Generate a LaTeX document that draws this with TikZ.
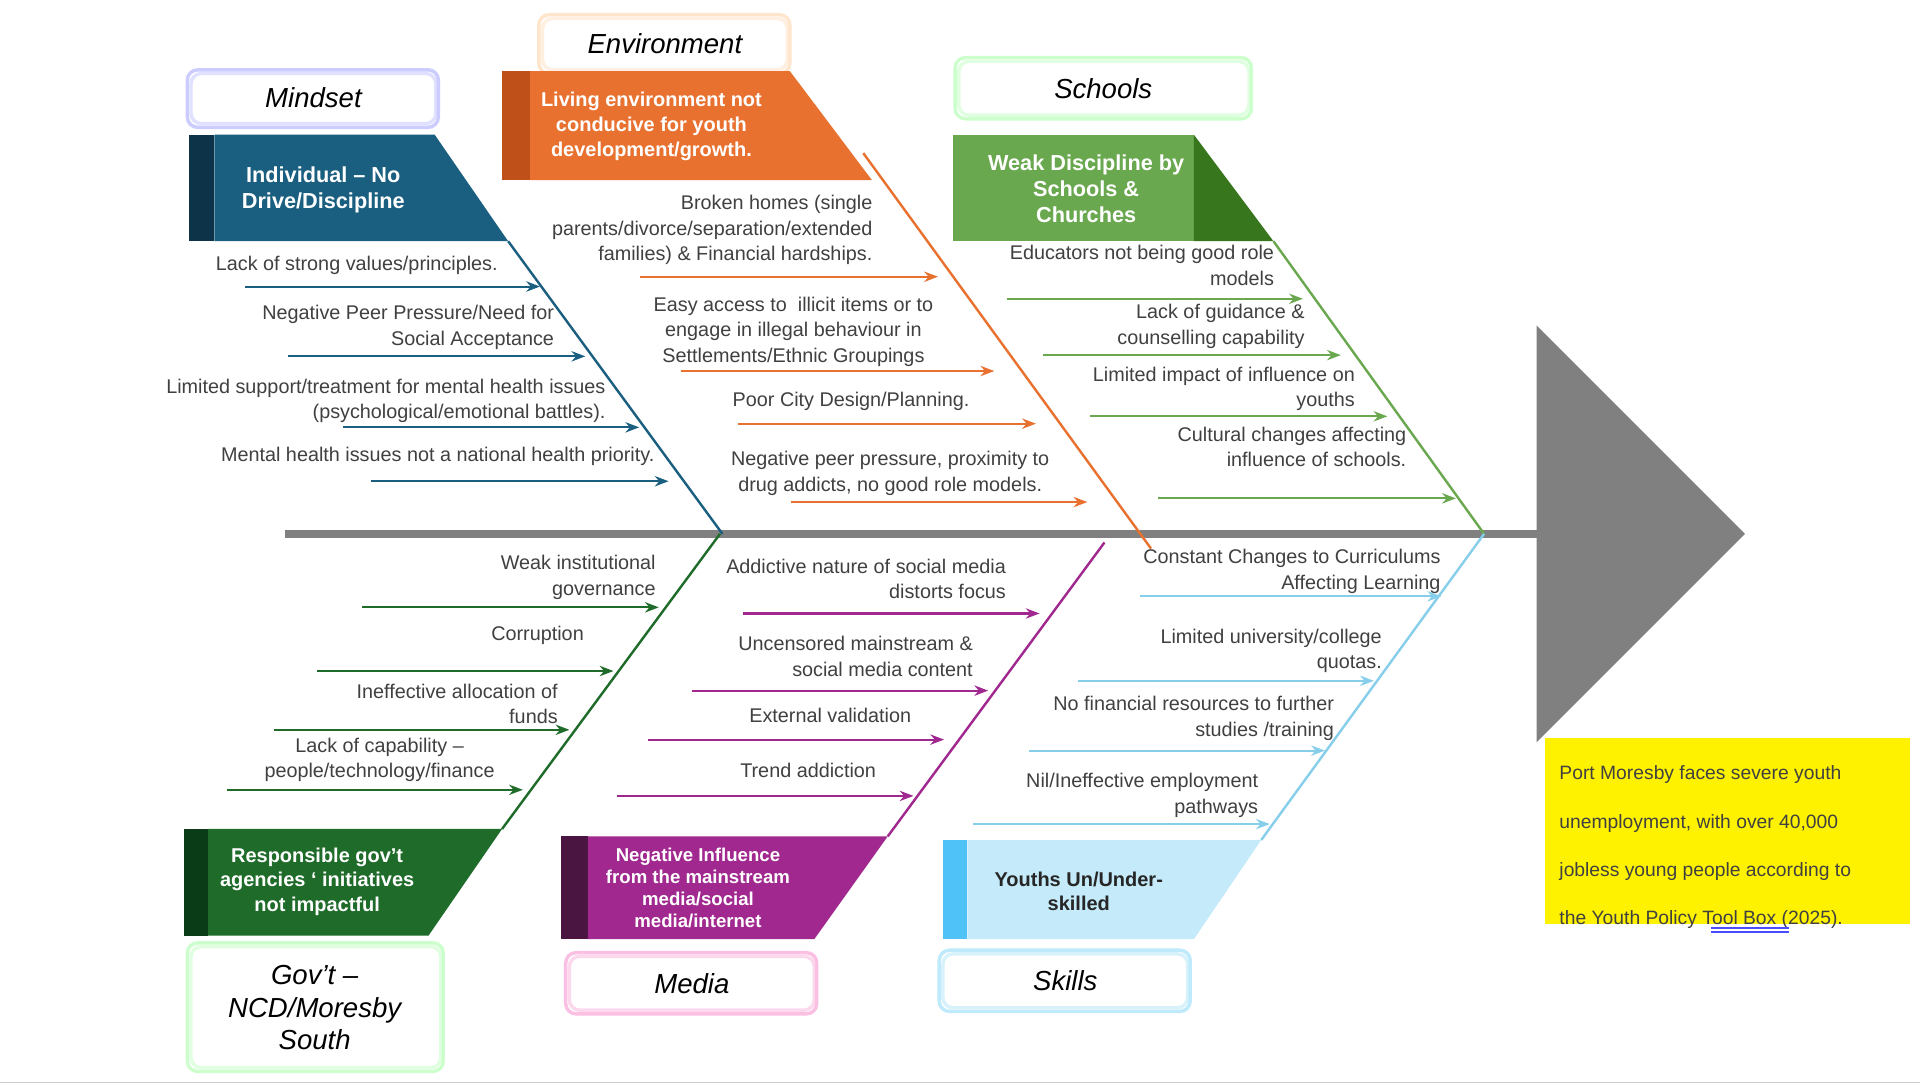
\documentclass[tikz,border=0pt]{standalone}
\usepackage{fontspec}
\setmainfont{Liberation Sans}
\usetikzlibrary{arrows.meta}
\definecolor{txt}{HTML}{404040}
\definecolor{mb}{HTML}{1A5F80}\definecolor{mbd}{HTML}{0D3349}
\definecolor{eo}{HTML}{E8712F}\definecolor{eod}{HTML}{C0501A}
\definecolor{sg}{HTML}{6AA84F}\definecolor{sgd}{HTML}{38761D}
\definecolor{gg}{HTML}{1E6B2A}\definecolor{ggd}{HTML}{0A3D17}
\definecolor{mp}{HTML}{A0288F}\definecolor{mpd}{HTML}{4A1540}
\definecolor{kb}{HTML}{C5EBFA}\definecolor{kbd}{HTML}{4FC3F7}\definecolor{kl}{HTML}{87CEEB}
\begin{document}
\begin{tikzpicture}[x=0.0125cm,y=-0.0125cm,
 t/.style={font=\fontsize{5.75}{7.4}\selectfont, text=txt, inner sep=0pt},
 r/.style={t,align=right,anchor=north east},
 c/.style={t,align=center,anchor=north},
 h/.style={font=\fontsize{5.8}{7.2}\selectfont\bfseries, text=white, align=center, inner sep=0pt},
 ttl/.style={font=\fontsize{8}{9.5}\selectfont\itshape, align=center, inner sep=0pt},
 ar/.style={-{Stealth[length=4pt,width=3pt]}, line width=0.6pt},
 bone/.style={line width=0.7pt},
 sk/.style={line width=1pt, rounded corners=3pt}]
\useasboundingbox (0,0) rectangle (1568,886);
\fill[white] (0,0) rectangle (1568,886);
\draw[gray!40] (0,884) -- (1568,884);
% spine and head
\coordinate (s0) at (233,436); \coordinate (s1) at (1255,436);
\draw[line width=2.2pt, gray] (s0) -- (s1);
\fill[gray] (1255,266) -- (1425,436) -- (1255,606) -- cycle;
% label boxes
\newcommand\lbl[6]{\draw[sk,#5] (#1,#2) rectangle (#3,#4); \draw[sk,#5,opacity=0.6] (#1+3,#2+3) rectangle (#3-2,#4-3);}
\lbl{153}{57}{358}{104}{blue!20}{}
\node[ttl] (tm) at (256,80) {Mindset};
\lbl{440}{12}{645}{60}{orange!20}{}
\node[ttl] (te) at (543,36) {Environment};
\lbl{780}{47}{1022}{97}{green!20}{}
\node[ttl] (ts) at (901,72) {Schools};
\lbl{153}{770}{362}{875}{green!20}{}
\node[ttl] (tg) at (257,823) {Gov't --\\NCD/Moresby\\South};
\lbl{462}{778}{667}{828}{magenta!25}{}
\node[ttl] (tmd) at (565,803) {Media};
\lbl{767}{776}{972}{826}{cyan!25}{}
\node[ttl] (tk) at (870,801) {Skills};
% headers
\fill[mbd] (154,110) rectangle (175,197); \fill[mb] (175,110) -- (355,110) -- (415,197) -- (175,197) -- cycle;
\node[h,font=\fontsize{6.3}{7.6}\selectfont\bfseries] (hm) at (264,155) {Individual -- No\\Drive/Discipline};
\fill[eod] (410,58) rectangle (433,147); \fill[eo] (433,58) -- (645,58) -- (712,147) -- (433,147) -- cycle;
\node[h] (he) at (532,103) {Living environment not\\conducive for youth\\development/growth.};
\fill[sg] (778,110) rectangle (975,197); \fill[sgd] (975,110) -- (1040,197) -- (975,197) -- cycle;
\node[h,font=\fontsize{6.3}{7.6}\selectfont\bfseries] (hs) at (887,154) {Weak Discipline by\\Schools \&\\Churches};
\fill[ggd] (150,677) rectangle (170,764); \fill[gg] (170,677) -- (410,677) -- (350,764) -- (170,764) -- cycle;
\node[h] (hg) at (259,720) {Responsible gov't\\agencies ‘ initiatives\\not impactful};
\fill[mpd] (458,683) rectangle (480,767); \fill[mp] (480,683) -- (725,683) -- (665,767) -- (480,767) -- cycle;
\node[h,font=\fontsize{5.4}{6.4}\selectfont\bfseries] (hmd) at (570,725) {Negative Influence\\from the  mainstream\\media/social\\media/internet};
\fill[kbd] (770,686) rectangle (790,767); \fill[kb] (790,686) -- (1030,686) -- (975,767) -- (790,767) -- cycle;
\node[h,text=black!85] (hk) at (881,728) {Youths Un/Under-\\skilled};
% bones
\draw[bone,mb] (415,197) -- (590,436);
\draw[bone,eo] (705,125) -- (940,448);
\draw[bone,sg] (1040,197) -- (1212,436);
\draw[bone,gg] (410,677) -- (588,436);
\draw[bone,mp] (725,683) -- (902,443);
\draw[bone,kl] (1030,686) -- (1212,436);
% Mindset
\node[r] (m1) at (407,209) {Lack of strong values/principles.};
\draw[ar,mb] (200,234) -- (441,234);
\node[r] (m2) at (453,249) {Negative Peer Pressure/Need for\\Social Acceptance};
\draw[ar,mb] (235,291) -- (478,291);
\node[r] (m3) at (495,309) {Limited support/treatment for mental health issues\\(psychological/emotional battles).};
\draw[ar,mb] (280,349) -- (522,349);
\node[r] (m4) at (535,365) {Mental health issues not a national health priority.};
\draw[ar,mb] (303,393) -- (546,393);
% Environment
\node[r] (e1) at (713,159) {Broken homes (single\\parents/divorce/separation/extended\\families) \& Financial hardships.};
\draw[ar,eo] (523,226) -- (766,226);
\node[c] (e2) at (648,242) {Easy access to \ illicit items or to\\engage in illegal behaviour in\\Settlements/Ethnic Groupings};
\draw[ar,eo] (556,303) -- (812,303);
\node[c] (e3) at (695,320) {Poor City Design/Planning.};
\draw[ar,eo] (603,346) -- (846,346);
\node[c] (e4) at (727,368) {Negative peer pressure, proximity to\\drug addicts, no good role models.};
\draw[ar,eo] (646,410) -- (888,410);
% Schools
\node[r] (s1t) at (1041,200) {Educators not being good role\\models};
\draw[ar,sg] (822,244) -- (1064,244);
\node[r] (s2t) at (1066,248) {Lack of guidance \&\\counselling capability};
\draw[ar,sg] (852,290) -- (1095,290);
\node[r] (s3t) at (1107,299) {Limited impact of influence on\\youths};
\draw[ar,sg] (890,340) -- (1133,340);
\node[r] (s4t) at (1149,348) {Cultural changes affecting\\influence of schools.};
\draw[ar,sg] (946,407) -- (1189,407);
% Gov
\node[r] (g1) at (536,453) {Weak institutional\\governance};
\draw[ar,gg] (296,496) -- (538,496);
\node[c] (g2) at (439,511) {Corruption};
\draw[ar,gg] (259,548) -- (501,548);
\node[r] (g3) at (456,558) {Ineffective allocation of\\funds};
\draw[ar,gg] (224,596) -- (465,596);
\node[c] (g4) at (310,602) {Lack of capability --\\people/technology/finance};
\draw[ar,gg] (185,645) -- (427,645);
% Media
\node[r] (d1) at (822,456) {Addictive nature of social media\\distorts focus};
\draw[ar,mp] (607,501) -- (849,501);
\node[r] (d2) at (795,519) {Uncensored mainstream \&\\social media content};
\draw[ar,mp] (565,564) -- (807,564);
\node[c] (d3) at (678,578) {External validation};
\draw[ar,mp] (529,604) -- (771,604);
\node[c] (d4) at (660,623) {Trend addiction};
\draw[ar,mp] (504,650) -- (746,650);
% Skills
\node[r] (k1) at (1177,448) {Constant Changes to Curriculums\\Affecting Learning};
\draw[ar,kl] (931,487) -- (1177,487);
\node[r] (k2) at (1129,513) {Limited university/college\\quotas.};
\draw[ar,kl] (880,556) -- (1122,556);
\node[r] (k3) at (1090,568) {No financial resources to further\\studies /training};
\draw[ar,kl] (840,613) -- (1082,613);
\node[r] (k4) at (1028,631) {Nil/Ineffective employment\\pathways};
\draw[ar,kl] (795,673) -- (1037,673);
% yellow note
\fill[yellow] (1262,603) rectangle (1560,755);
\node[t,anchor=north west,align=left,font=\fontsize{5.6}{14}\selectfont] (note) at (1273,625) {Port Moresby faces severe youth\\unemployment, with over 40,000\\jobless young people according to\\the Youth Policy Tool Box (2025).};
\draw[blue!70,line width=0.4pt] (1397,758) -- (1461,758) (1397,761) -- (1461,761);
\end{tikzpicture}
\end{document}
